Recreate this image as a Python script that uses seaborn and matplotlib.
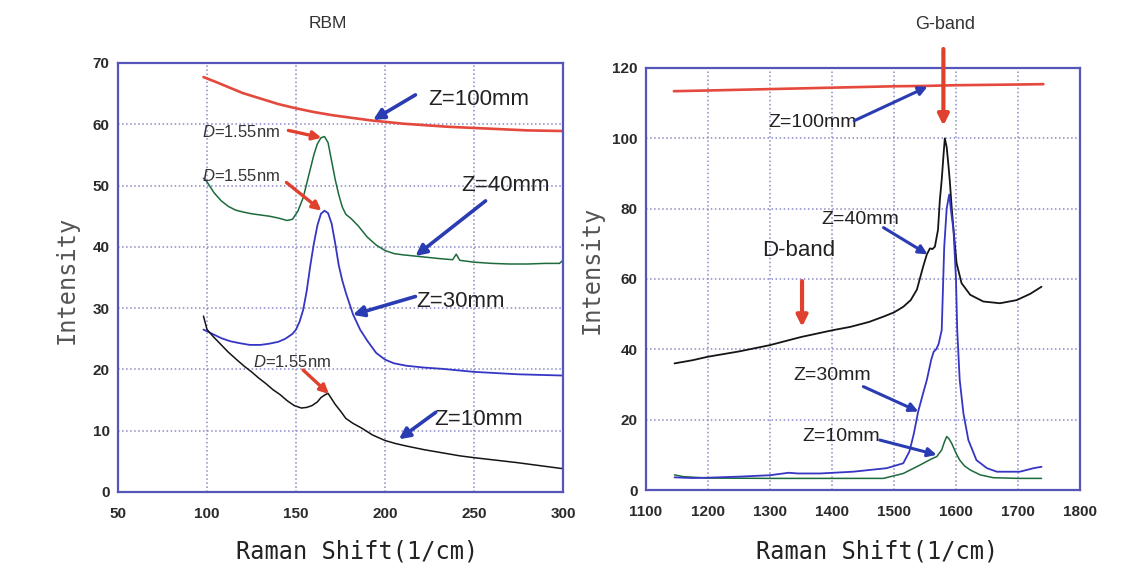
import matplotlib
matplotlib.use('Agg')
import matplotlib.pyplot as plt
import seaborn as sns

# RBM region spectra (left panel)
rbm_x_z100 = [98, 105, 110, 120, 130, 140, 150, 160, 170, 180, 193, 200, 210, 220, 235, 250, 265, 280, 300]
rbm_y_z100 = [67.7, 66.9, 66.3, 65.1, 64.2, 63.3, 62.6, 62.0, 61.5, 61.1, 60.6, 60.4, 60.1, 59.9, 59.6, 59.4, 59.2, 59.0, 58.9]

rbm_x_z40 = [98, 100, 104, 108, 112, 116, 120, 125, 130, 135, 140, 145, 148, 151, 154, 157, 160, 162, 164, 166,
             168, 170, 172, 174, 176, 178, 181, 185, 190, 195, 200, 205, 210, 220, 230, 238, 240, 242, 250, 260,
             270, 280, 290, 298, 300]
rbm_y_z40 = [51.2, 50.6, 48.8, 47.5, 46.6, 46.0, 45.7, 45.4, 45.2, 45.0, 44.7, 44.3, 44.5, 45.8, 48.0, 51.5, 55.0, 56.8, 57.8, 58.0,
             57.0, 54.0, 51.0, 48.5, 46.5, 45.3, 44.6, 43.4, 41.6, 40.3, 39.4, 38.9, 38.7, 38.4, 38.1, 37.9, 38.8, 37.8, 37.5, 37.3,
             37.2, 37.2, 37.3, 37.3, 37.8]

rbm_x_z30 = [98, 103, 108, 113, 118, 124, 130, 135, 140, 144, 148, 150, 152, 154, 156, 158, 160, 162, 164, 166,
             168, 170, 172, 174, 176, 178, 182, 186, 190, 195, 200, 205, 212, 222, 232, 250, 275, 300]
rbm_y_z30 = [26.5, 25.8, 25.1, 24.6, 24.3, 24.0, 24.0, 24.2, 24.5, 25.0, 25.8, 26.5, 27.8, 29.7, 32.8, 36.9, 40.5, 43.5, 45.4, 45.9,
             45.5, 43.8, 40.6, 37.0, 34.5, 32.5, 29.0, 26.5, 24.7, 22.7, 21.6, 21.0, 20.6, 20.3, 20.1, 19.6, 19.2, 19.0]

rbm_x_z10 = [98, 100, 104, 108, 112, 117, 121, 125, 129, 133, 137, 141, 145, 149, 153, 156, 159, 162, 164, 166,
             168, 170, 172, 175, 178, 182, 187, 193, 200, 206, 212, 222, 232, 242, 250, 262, 274, 287, 300]
rbm_y_z10 = [28.7, 26.5, 25.2, 24.0, 22.8, 21.5, 20.5, 19.6, 18.6, 17.7, 16.7, 15.9, 14.9, 14.1, 13.7, 13.8, 14.1, 14.7, 15.4, 15.8,
             16.1, 15.2, 14.3, 13.2, 12.0, 11.2, 10.4, 9.3, 8.4, 7.9, 7.5, 6.9, 6.4, 5.9, 5.6, 5.2, 4.8, 4.3, 3.8]

# D/G band region spectra (right panel)
g_x_z100 = [1145, 1200, 1250, 1300, 1350, 1400, 1450, 1500, 1550, 1600, 1650, 1700, 1741]
g_y_z100 = [113.4, 113.6, 113.8, 114.0, 114.2, 114.4, 114.6, 114.8, 114.9, 115.1, 115.2, 115.3, 115.4]

g_x_z40 = [1146, 1175, 1200, 1250, 1300, 1350, 1400, 1430, 1460, 1483, 1500, 1515, 1527, 1537, 1547, 1553, 1558, 1562,
           1566, 1571, 1574, 1577, 1580, 1582, 1585, 1588, 1590, 1593, 1596, 1601, 1609, 1623, 1644, 1671, 1698, 1720, 1738]
g_y_z40 = [36.0, 36.9, 37.9, 39.4, 41.2, 43.5, 45.4, 46.4, 47.8, 49.3, 50.5, 52.1, 54.0, 57.0, 63.5, 67.0, 68.7, 68.5,
           69.2, 74.0, 82.5, 88.2, 95.5, 100.0, 97.5, 92.0, 88.0, 80.5, 74.0, 64.5, 58.8, 55.5, 53.6, 53.1, 54.0, 55.8, 57.8]

g_x_z30 = [1146, 1175, 1200, 1250, 1300, 1330, 1345, 1381, 1434, 1488, 1515, 1525, 1532, 1539, 1547, 1553, 1560, 1564,
           1568, 1572, 1577, 1581, 1585, 1589, 1593, 1596, 1600, 1602, 1606, 1612, 1620, 1633, 1650, 1666, 1703, 1725, 1738]
g_y_z30 = [3.6, 3.4, 3.5, 3.8, 4.2, 4.9, 4.7, 4.7, 5.2, 6.2, 7.6, 11.0, 16.0, 22.3, 27.5, 31.3, 37.0, 39.3,
           40.0, 41.5, 45.5, 69.0, 80.0, 84.0, 78.0, 74.0, 60.0, 45.5, 31.3, 21.8, 14.2, 8.5, 6.2, 5.2, 5.2, 6.2, 6.6]

g_x_z10 = [1146, 1160, 1200, 1300, 1381, 1483, 1515, 1542, 1560, 1569, 1577, 1581, 1585, 1589, 1593, 1600, 1606, 1614,
           1623, 1639, 1660, 1700, 1738]
g_y_z10 = [4.3, 3.8, 3.4, 3.3, 3.3, 3.3, 4.7, 7.1, 8.8, 9.5, 11.4, 13.5, 15.2, 14.5, 13.3, 10.5, 8.5, 6.8,
           5.7, 4.3, 3.5, 3.3, 3.3]

rbm_xticks = [50, 100, 150, 200, 250, 300]
rbm_yticks = [0, 10, 20, 30, 40, 50, 60, 70]
g_xticks = [1100, 1200, 1300, 1400, 1500, 1600, 1700, 1800]
g_yticks = [0, 20, 40, 60, 80, 100, 120]

RED = '#e5483c'
GREEN = '#1d6b3c'
BLUE = '#3636c4'
BLACK = '#151515'
ARROW_BLUE = '#2a3cb2'
ARROW_RED = '#e0402e'

sns.set_theme(style='white')
plt.rcParams['font.family'] = ['Liberation Sans', 'DejaVu Sans']
plt.rcParams['mathtext.fontset'] = 'custom'
plt.rcParams['mathtext.it'] = 'Liberation Sans:italic'
plt.rcParams['mathtext.rm'] = 'Liberation Sans'

fig = plt.figure(figsize=(11.45, 5.67), dpi=100)
ax1 = fig.add_axes([0.1031, 0.1323, 0.3886, 0.7566])
ax2 = fig.add_axes([0.5642, 0.1358, 0.3790, 0.7443])


def style_axes(ax, xticks, yticks):
    ax.set_xlim(xticks[0], xticks[-1])
    ax.set_ylim(yticks[0], yticks[-1])
    ax.set_xticks(xticks)
    ax.set_yticks(yticks)
    ax.grid(True, color='#8a8ac6', ls=':', lw=1.1)
    for s in ax.spines.values():
        s.set_color('#5656ba')
        s.set_linewidth(1.6)
    ax.tick_params(axis='both', length=0, labelsize=11, labelcolor='#2a2a2a')
    ax.tick_params(axis='x', pad=11)
    ax.tick_params(axis='y', pad=6)
    for lab in ax.get_xticklabels() + ax.get_yticklabels():
        lab.set_fontweight('bold')
    ax.set_xlabel('')
    ax.set_ylabel('')


def arrow(ax, tail, tip, color, lw=2.6, ms=16):
    ax.annotate('', xy=tip, xytext=tail, annotation_clip=False,
                arrowprops=dict(arrowstyle='-|>', color=color, lw=lw, mutation_scale=ms,
                                shrinkA=0, shrinkB=0))


# left panel: RBM
sns.lineplot(x=rbm_x_z100, y=rbm_y_z100, ax=ax1, color=RED, lw=1.9, sort=False, estimator=None)
sns.lineplot(x=rbm_x_z40, y=rbm_y_z40, ax=ax1, color=GREEN, lw=1.1, sort=False, estimator=None)
sns.lineplot(x=rbm_x_z30, y=rbm_y_z30, ax=ax1, color=BLUE, lw=1.3, sort=False, estimator=None)
sns.lineplot(x=rbm_x_z10, y=rbm_y_z10, ax=ax1, color=BLACK, lw=1.1, sort=False, estimator=None)
style_axes(ax1, rbm_xticks, rbm_yticks)

ax1.text(224.4, 64.0, 'Z=100mm', fontsize=16, ha='left', va='center', color='#222222')
ax1.text(243.0, 50.0, 'Z=40mm', fontsize=16, ha='left', va='center', color='#222222')
ax1.text(217.5, 31.1, 'Z=30mm', fontsize=16, ha='left', va='center', color='#222222')
ax1.text(227.5, 11.9, 'Z=10mm', fontsize=16, ha='left', va='center', color='#222222')
arrow(ax1, (217.1, 64.8), (193.3, 60.7), ARROW_BLUE)
arrow(ax1, (256.5, 47.5), (217.1, 38.5), ARROW_BLUE)
arrow(ax1, (217.1, 31.9), (181.9, 28.9), ARROW_BLUE)
arrow(ax1, (228.5, 13.0), (207.8, 8.6), ARROW_BLUE)

ax1.text(97.0, 58.75, r'$\mathit{D}$=1.55nm', fontsize=12, ha='left', va='center', color='#333333')
ax1.text(97.0, 51.6, r'$\mathit{D}$=1.55nm', fontsize=12, ha='left', va='center', color='#333333')
ax1.text(126.0, 21.2, r'$\mathit{D}$=1.55nm', fontsize=12, ha='left', va='center', color='#333333')
arrow(ax1, (145.7, 59.0), (164.3, 57.8), ARROW_RED, lw=2.4, ms=13)
arrow(ax1, (144.6, 50.5), (164.3, 45.9), ARROW_RED, lw=2.4, ms=13)
arrow(ax1, (154.0, 19.9), (168.5, 16.0), ARROW_RED, lw=2.4, ms=13)

# right panel: D and G bands
sns.lineplot(x=g_x_z100, y=g_y_z100, ax=ax2, color=RED, lw=1.9, sort=False, estimator=None)
sns.lineplot(x=g_x_z40, y=g_y_z40, ax=ax2, color=BLACK, lw=1.3, sort=False, estimator=None)
sns.lineplot(x=g_x_z10, y=g_y_z10, ax=ax2, color=GREEN, lw=1.1, sort=False, estimator=None)
sns.lineplot(x=g_x_z30, y=g_y_z30, ax=ax2, color=BLUE, lw=1.3, sort=False, estimator=None)
style_axes(ax2, g_xticks, g_yticks)

ax2.text(1296.6, 104.5, 'Z=100mm', fontsize=14, ha='left', va='center', color='#222222')
ax2.text(1382.5, 77.0, 'Z=40mm', fontsize=14, ha='left', va='center', color='#222222')
ax2.text(1338.0, 32.7, 'Z=30mm', fontsize=14, ha='left', va='center', color='#222222')
ax2.text(1352.9, 15.2, 'Z=10mm', fontsize=14, ha='left', va='center', color='#222222')
ax2.text(1287.7, 68.0, 'D-band', fontsize=16, ha='left', va='center', color='#222222')
arrow(ax2, (1435.8, 105.0), (1554.2, 114.7), ARROW_BLUE, lw=2.2, ms=13)
arrow(ax2, (1483.2, 74.6), (1554.2, 67.0), ARROW_BLUE, lw=2.2, ms=13)
arrow(ax2, (1450.6, 29.4), (1539.4, 22.3), ARROW_BLUE, lw=2.2, ms=13)
arrow(ax2, (1477.2, 14.2), (1569.0, 10.0), ARROW_BLUE, lw=2.2, ms=13)
arrow(ax2, (1579.7, 125.4), (1579.7, 103.6), ARROW_RED, lw=3.0, ms=16)
arrow(ax2, (1351.7, 59.4), (1351.7, 46.4), ARROW_RED, lw=3.0, ms=16)

# titles and axis labels placed at their figure positions
fig.text(0.2865, 0.959, 'RBM', fontsize=12.5, ha='center', va='center', color='#333333')
fig.text(0.8253, 0.956, 'G-band', fontsize=13, ha='center', va='center', color='#333333')
fig.text(0.0585, 0.506, 'Intensity', fontsize=17, rotation=90, ha='center', va='center',
         family='DejaVu Sans Mono', color='#555555')
fig.text(0.5170, 0.524, 'Intensity', fontsize=17, rotation=90, ha='center', va='center',
         family='DejaVu Sans Mono', color='#555555')
fig.text(0.3118, 0.0265, 'Raman Shift(1/cm)', fontsize=17, ha='center', va='center',
         family='DejaVu Sans Mono', color='#222222')
fig.text(0.7660, 0.0265, 'Raman Shift(1/cm)', fontsize=17, ha='center', va='center',
         family='DejaVu Sans Mono', color='#222222')

fig.savefig('out.png', dpi=100, facecolor='white')
